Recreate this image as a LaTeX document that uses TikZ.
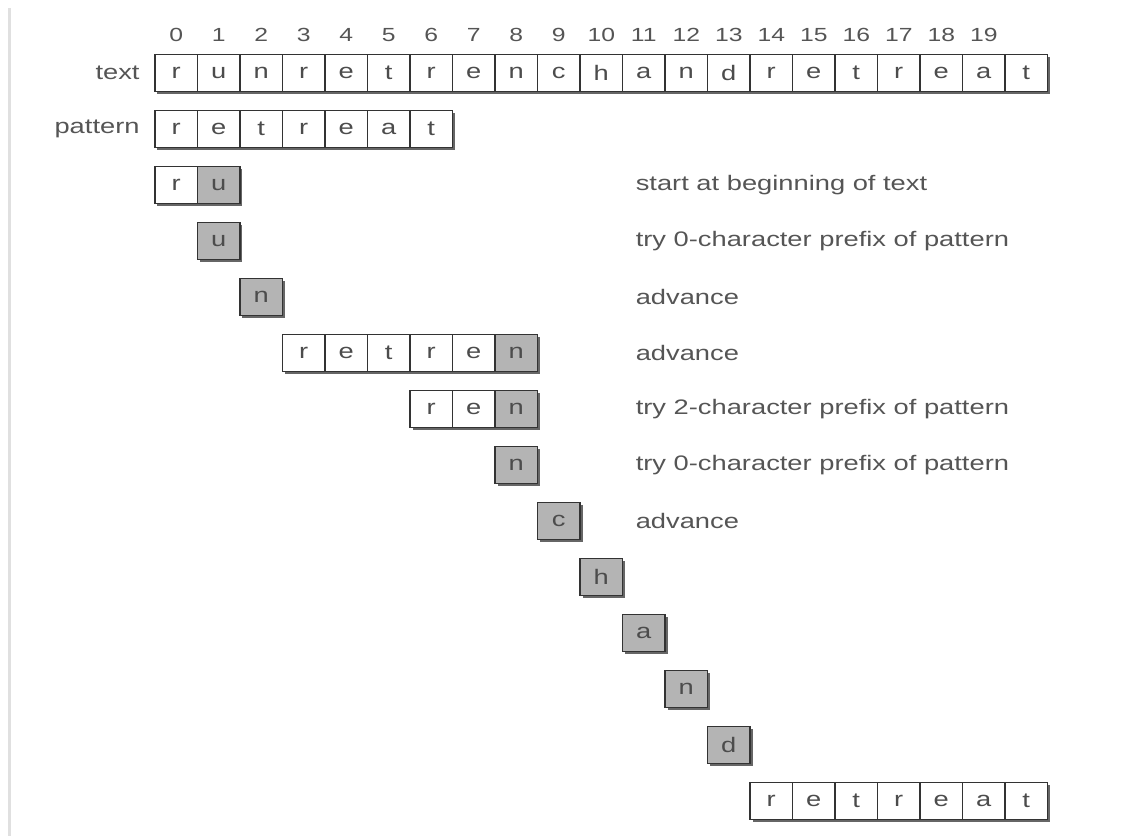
\documentclass[tikz,border=0pt]{standalone}
\usepackage{fontspec}
\setmainfont{Liberation Sans}
\newfontfamily\widesans[FakeStretch=1.3]{Liberation Sans}
\usetikzlibrary{shadows}
\definecolor{inkgray}{HTML}{555555}
\definecolor{hitgray}{HTML}{B4B4B4}
\tikzset{
  cell/.style={draw=black!80, line width=1.5pt, minimum width=42.5pt,
    minimum height=37pt, inner sep=0pt, text=black!70,
    font=\widesans\fontsize{21}{21}\selectfont,
    drop shadow={shadow xshift=2.5pt, shadow yshift=-2.5pt, opacity=0.6, fill=black}},
  plain/.style={cell, fill=white},
  hit/.style={cell, fill=hitgray},
  lbl/.style={anchor=east, text=inkgray, font=\widesans\fontsize{21}{21}\selectfont},
  note/.style={anchor=west, text=inkgray, font=\widesans\fontsize{21}{21}\selectfont},
  idx/.style={text=inkgray, font=\widesans\fontsize{19}{19}\selectfont},
}
\begin{document}
\begin{tikzpicture}[x=42.5pt, y=-56pt]
    % page frame
    \useasboundingbox (-4.147,-1.3036) rectangle (22.606,13.625);
    \draw[line width=3pt, black!12] (-3.92,-1.16) -- (-3.92,13.625);

    % indices
    \foreach \i in {0,...,19}
        \node[idx] (n\i) at (\i,-0.68) {\i};

    % text
    \node[lbl] (textlbl) at (-0.78,0) {text};
    \foreach \ch [count=\i from 0] in {r,u,n,r,e,t,r,e,n,c,h,a,n,d,r,e,t,r,e,a,t}
        \node[plain] (t\i) at (\i,0) {\ch};

    % pattern
    \node[lbl] (patlbl) at (-0.78,1) {pattern};
    \foreach \ch [count=\i from 0] in {r,e,t,r,e,a,t}
        \node[plain] (p\i) at (\i,1) {\ch};

    % start at beginning
    \node[plain] (s2c0) at (0,2) {r};
    \node[hit] (s2c1) at (1,2) {u};
    \node[note] (note2) at (10.73,2) {start at beginning of text};

    % mismatch at u
    \node[hit] (s3c1) at (1,3) {u};
    \node[note] (note3) at (10.73,3) {try 0-character prefix of pattern};

    \node[hit] (s4c2) at (2,4) {n};
    \node[note] (note4) at (10.73,4) {advance};

    % partial match retre
    \foreach \ch [count=\i from 3] in {r,e,t,r,e}
        \node[plain] (s5c\i) at (\i,5) {\ch};
    \node[hit] (s5c8) at (8,5) {n};
    \node[note] (note5) at (10.73,5) {advance};

    % 2-character prefix
    \node[plain] (s6c6) at (6,6) {r};
    \node[plain] (s6c7) at (7,6) {e};
    \node[hit] (s6c8) at (8,6) {n};
    \node[note] (note6) at (10.73,6) {try 2-character prefix of pattern};

    \node[hit] (s7c8) at (8,7) {n};
    \node[note] (note7) at (10.73,7) {try 0-character prefix of pattern};

    % advance one by one
    \node[hit] (s8c9) at (9,8) {c};
    \node[note] (note8) at (10.73,8) {advance};
    \node[hit] (s9c10) at (10,9) {h};
    \node[hit] (s10c11) at (11,10) {a};
    \node[hit] (s11c12) at (12,11) {n};
    \node[hit] (s12c13) at (13,12) {d};

    % full match
    \foreach \ch [count=\i from 14] in {r,e,t,r,e,a,t}
        \node[plain] (s13c\i) at (\i,13) {\ch};
\end{tikzpicture}
\end{document}
